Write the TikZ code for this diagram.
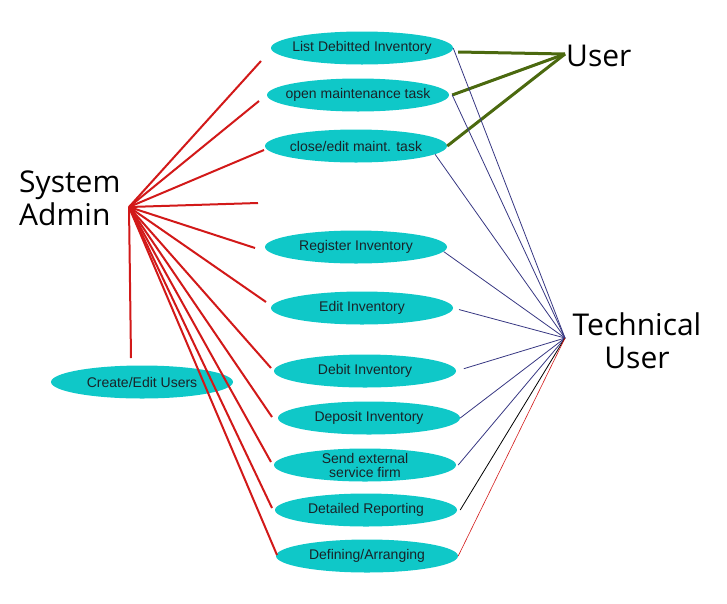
\documentclass[tikz,border=0pt]{standalone}
\usepackage{fontspec}
\setmainfont{Liberation Sans}
\newfontfamily\actorfont{Open Sans}
\usetikzlibrary{shapes.geometric}
\definecolor{casefill}{RGB}{15,200,200}
\definecolor{casetext}{RGB}{25,35,40}
\definecolor{adminred}{RGB}{210,25,25}
\definecolor{usergreen}{RGB}{75,105,15}
\definecolor{techblue}{RGB}{55,55,130}

\begin{document}
\begin{tikzpicture}[x=1pt,y=-1pt,
    usecase/.style={ellipse,fill=casefill,minimum width=182pt,minimum height=33pt,
        inner xsep=-15pt,inner ysep=-4pt,
        text=casetext,align=center,font=\fontsize{14}{14}\selectfont},
    actor/.style={inner sep=0pt,font=\actorfont\fontsize{30}{33}\selectfont},
    adminline/.style={draw=adminred,line width=2pt},
    userline/.style={draw=usergreen,line width=3pt},
    techline/.style={draw=techblue,line width=0.8pt}]
		
		\useasboundingbox (0,0) rectangle (727,603);
		
		\coordinate (SA) at (129,207) ;
		\coordinate (U) at (565,54) ;
		\coordinate (TU) at (565,338) ;
		
		\node[actor,align=left,anchor=base west] (admin) at (19,225) {System\\Admin};
		\node[actor,anchor=base west] (user) at (566,66) {User};
		\node[actor,align=center,anchor=base] (tech) at (637,368) {Technical\\User};
		
		\node[usecase] (list) at (362,48) {List Debitted Inventory};
		\node[usecase] (open) at (358,95) {open maintenance task};
		\node[usecase] (close) at (356,146) {close/edit maint. task};
		\node[usecase] (reg) at (356,247) {Register Inventory};
		\node[usecase] (edit) at (362,308) {Edit Inventory};
		\node[usecase] (debit) at (365,371) {Debit Inventory};
		\node[usecase] (depo) at (369,418) {Deposit Inventory};
		\node[usecase] (send) at (365,465) {Send external\\service firm};
		\node[usecase] (rep) at (366,510) {Detailed Reporting};
		\node[usecase] (def) at (367,556) {Defining/Arranging};
		\node[usecase] (users) at (142,382) {Create/Edit Users};
		
		% ends of the admin lines
		\coordinate (a1) at (261,61) ;
		\coordinate (a2) at (259,101) ;
		\coordinate (a3) at (264,150) ;
		\coordinate (a4) at (258,203) ;
		\coordinate (a5) at (255,248) ;
		\coordinate (a6) at (266,302) ;
		\coordinate (a7) at (271,368) ;
		\coordinate (a8) at (272,417) ;
		\coordinate (a9) at (271,462) ;
		\coordinate (a10) at (272,508) ;
		\coordinate (a11) at (277,555) ;
		\coordinate (a12) at (131,358) ;
		
		\draw[adminline] (SA)--(a1);
		\draw[adminline] (SA)--(a2);
		\draw[adminline] (SA)--(a3);
		\draw[adminline] (SA)--(a4);
		\draw[adminline] (SA)--(a5);
		\draw[adminline] (SA)--(a6);
		\draw[adminline] (SA)--(a7);
		\draw[adminline] (SA)--(a8);
		\draw[adminline] (SA)--(a9);
		\draw[adminline] (SA)--(a10);
		\draw[adminline] (SA)--(a11);
		\draw[adminline] (SA)--(a12);
		
		\draw[userline] ([shift={(5,4)}]list.east)--(U);
		\draw[userline] ([xshift=3]open.east)--(U);
		\draw[userline] (close.east)--(U);
		
		\draw[techline] (list.east)--(TU);
		\draw[techline] ([xshift=3]open.east)--(TU);
		\draw[techline] (close.-6)--(TU);
		\draw[techline] (reg.-3)--(TU);
		\draw[techline,shorten <=6pt] (edit.east)--(TU);
		\draw[techline,shorten <=8pt] (debit.east)--(TU);
		\draw[techline] (depo.east)--(TU);
		\draw[techline] ([xshift=2]send.east)--(TU);
		\draw[line width=0.8pt] ([xshift=3]rep.east)--(TU);
		\draw[draw=adminred,line width=0.6pt] (def.east)--(TU);
\end{tikzpicture}
\end{document}
